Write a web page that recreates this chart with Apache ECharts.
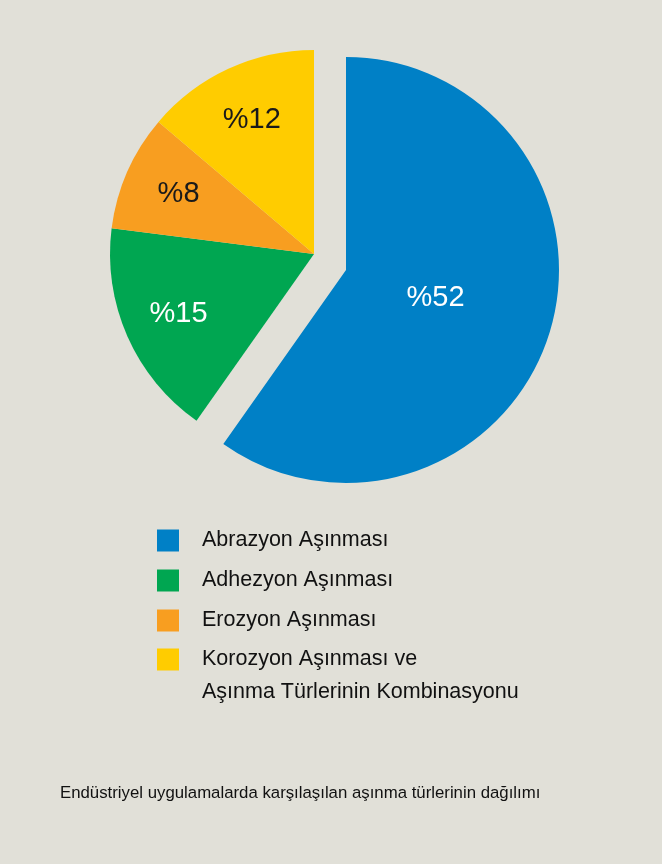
<!DOCTYPE html>
<html>
<head>
<meta charset="utf-8">
<script src="https://cdn.jsdelivr.net/npm/echarts@6/dist/echarts.min.js"></script>
<style>
  html, body { margin: 0; padding: 0; background: #e1e0d8; }
  #chart { width: 662px; height: 864px; }
</style>
</head>
<body>
<div id="chart"></div>
<script>
  // aşınma türleri ve yüzdeleri
  const categories = ['Abrazyon Aşınması', 'Adhezyon Aşınması', 'Erozyon Aşınması', 'Korozyon Aşınması ve Aşınma Türlerinin Kombinasyonu']
  const values = [52, 15, 8, 12]
  const labels = ['%52', '%15', '%8', '%12']
  const colors = ['#0080c6', '#00a651', '#f89e20', '#ffcc00']
  const labelColors = ['#ffffff', '#ffffff', '#1a1a1a', '#1a1a1a']

  const font = '"Liberation Sans", Arial, sans-serif'
  const blueCenter = [346, 270]
  const blueRadius = 213
  const restCenter = [314, 254]
  const restRadius = 204
  const none = 'rgba(0,0,0,0)'

  let chart = echarts.init(document.getElementById('chart'))

  // dilim verisi: fill / label hangi dilimin boyanacağını / etiketleneceğini seçer
  function pieData (fill, label) {
    return categories.map((name, i) => ({
      name: name,
      value: values[i],
      itemStyle: { color: fill(i) ? colors[i] : none },
      label: { show: label(i), formatter: labels[i], color: labelColors[i] }
    }))
  }

  function pieSeries (name, center, radius, data) {
    return {
      name: name,
      type: 'pie',
      center: center,
      radius: radius,
      startAngle: 90,
      silent: true,
      label: { position: 'inside', fontFamily: font, fontSize: 29 },
      labelLine: { show: false },
      data: data
    }
  }

  function legendData (from, to) {
    return categories.slice(from, to).map((name, i) => ({
      name: name,
      itemStyle: { color: colors[from + i] }
    }))
  }

  let legendText = { fontFamily: font, fontSize: 21.5, color: '#111111', lineHeight: 33, padding: [0, 0, 0, 18] }

  chart.setOption({
    backgroundColor: '#e1e0d8',
    animation: false,
    title: {
      text: 'Endüstriyel uygulamalarda karşılaşılan aşınma türlerinin dağılımı',
      left: 55,
      top: 780,
      textStyle: { fontFamily: font, fontSize: 16.8, fontWeight: 'normal', color: '#111111' }
    },
    legend: [
      {
        orient: 'vertical',
        left: 152,
        top: 519,
        itemWidth: 22,
        itemHeight: 22,
        itemGap: 7,
        selectedMode: false,
        icon: 'rect',
        data: legendData(0, 3),
        textStyle: legendText
      },
      {
        orient: 'vertical',
        left: 152,
        top: 605,
        itemWidth: 22,
        itemHeight: 22,
        selectedMode: false,
        icon: 'rect',
        data: legendData(3, 4),
        formatter: name => '\n' + name.replace(' ve ', ' ve\n'),
        textStyle: legendText
      }
    ],
    series: [
      pieSeries('abrazyon', blueCenter, [0, blueRadius], pieData(i => i === 0, i => false)),
      pieSeries('diğer', restCenter, [0, restRadius], pieData(i => i !== 0, i => false)),
      pieSeries('etiket1', blueCenter, [0, 182], pieData(i => false, i => i === 0)),
      pieSeries('etiket2', restCenter, [86, restRadius], pieData(i => false, i => i !== 0))
    ]
  })
</script>
</body>
</html>
